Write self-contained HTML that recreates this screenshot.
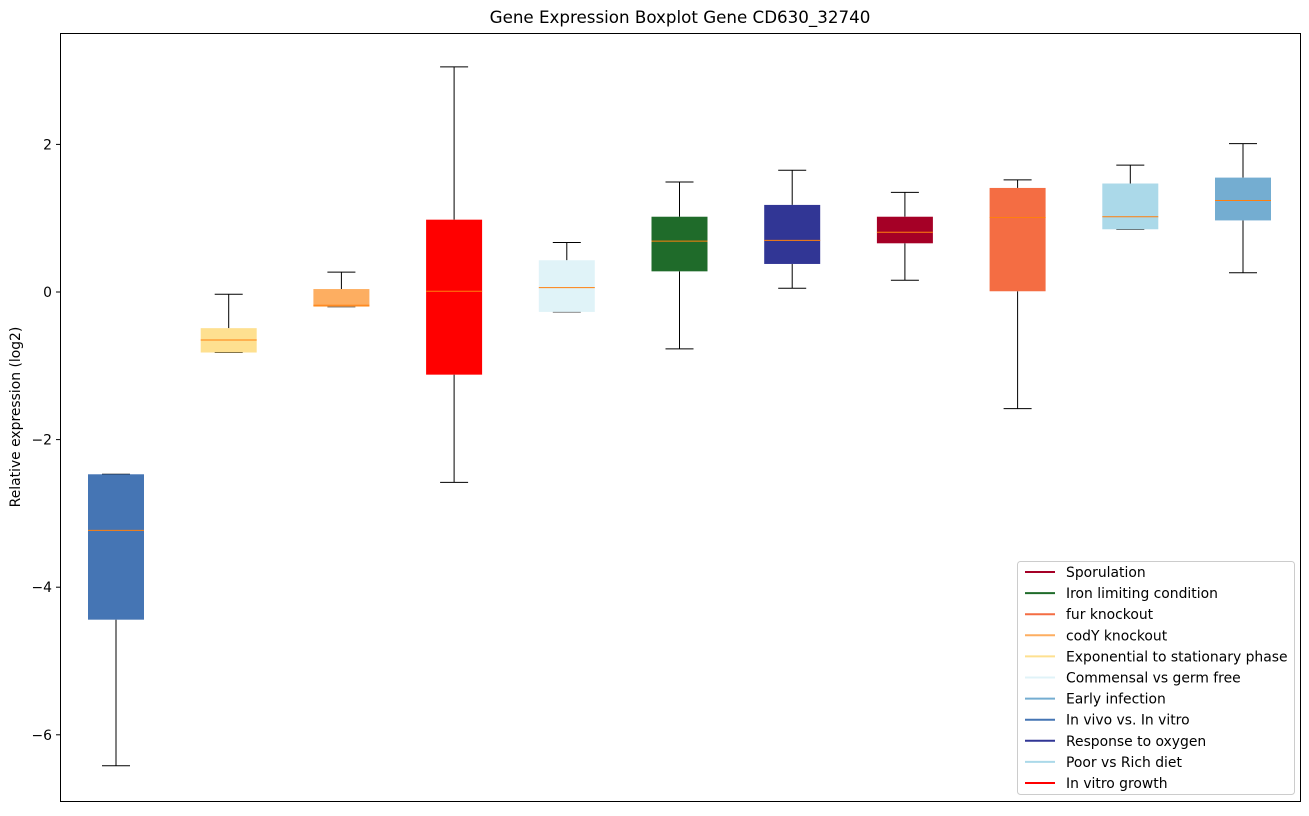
<!DOCTYPE html>
<html><head><meta charset="utf-8"><style>
body{margin:0;background:#fff;font-family:"DejaVu Sans","Liberation Sans",sans-serif;}
svg text{font-family:"DejaVu Sans","Liberation Sans",sans-serif;}
</style></head><body>
<svg id="chart" width="1309" height="812">
<text x="680" y="23" text-anchor="middle" font-size="16.7">Gene Expression Boxplot Gene CD630_32740</text>
<text transform="translate(20,417) rotate(-90)" text-anchor="middle" font-size="13.9">Relative expression (log2)</text>
<g id="marks"></g>
<g id="yaxis"></g>
<rect x="60.5" y="33.5" width="1240" height="768" fill="none" stroke="#000" stroke-width="1"/>
<g id="legend"></g>
</svg>
<script>
const categories=["In vivo vs. In vitro","Exponential to stationary phase","codY knockout","In vitro growth","Commensal vs germ free","Iron limiting condition","Response to oxygen","Sporulation","fur knockout","Poor vs Rich diet","Early infection"];
const colors=["#4575b4","#fee090","#fdae61","#ff0000","#e0f3f8","#1f6b2a","#313695","#a50026","#f46d43","#abd9e9","#74add1"];
const whiskerLow=[-6.42,-0.82,-0.2,-2.58,-0.27,-0.77,0.05,0.16,-1.58,0.85,0.26];
const q1=[-4.44,-0.82,-0.2,-1.12,-0.27,0.28,0.38,0.66,0.01,0.85,0.97];
const median=[-3.23,-0.65,-0.18,0.01,0.06,0.69,0.70,0.81,1.01,1.02,1.24];
const q3=[-2.47,-0.49,0.04,0.98,0.43,1.02,1.18,1.02,1.41,1.47,1.55];
const whiskerHigh=[-2.47,-0.03,0.27,3.05,0.67,1.49,1.65,1.35,1.52,1.72,2.01];
const yTicks=[2,0,-2,-4,-6];
const legendOrder=[7,5,8,2,1,4,10,0,6,9,3];
const NS="http://www.w3.org/2000/svg";
const y=v=>292-v*73.8;
const x=i=>116+i*112.7;
function mk(t,a,p){const e=document.createElementNS(NS,t);for(const k in a)e.setAttribute(k,a[k]);p.appendChild(e);return e;}
const g=document.getElementById('marks');
categories.forEach((c,i)=>{
 const cx=x(i),w=56;
 const wl=mk('line',{x1:cx,x2:cx,y1:y(q1[i]),y2:y(whiskerLow[i]),stroke:'#000'},g);
 
 
 const wh=mk('line',{x1:cx,x2:cx,y1:y(q3[i]),y2:y(whiskerHigh[i]),stroke:'#000'},g);
 
 
 const c1=mk('line',{x1:cx-14,x2:cx+14,y1:y(whiskerLow[i]),y2:y(whiskerLow[i]),stroke:'#000'},g);
 
 
 const c2=mk('line',{x1:cx-14,x2:cx+14,y1:y(whiskerHigh[i]),y2:y(whiskerHigh[i]),stroke:'#000'},g);
 
 
 const b=mk('rect',{x:cx-w/2,y:y(q3[i]),width:w,height:Math.max(1,y(q1[i])-y(q3[i])),fill:colors[i]},g);
 
 
 const m=mk('line',{x1:cx-w/2,x2:cx+w/2,y1:y(median[i]),y2:y(median[i]),stroke:'#ff7f0e','stroke-width':1},g);
 
 
});
const ya=document.getElementById('yaxis');
yTicks.forEach(t=>{
 const l=mk('line',{x1:56,x2:60,y1:y(t),y2:y(t),stroke:'#000'},ya);
 
 
 const tx=mk('text',{x:52,y:y(t)+5,'text-anchor':'end','font-size':13.9},ya);
 tx.textContent=(t<0?'\u2212'+(-t):t);
 
 
});
const lg=document.getElementById('legend');
const fr=mk('rect',{x:1017.5,y:561.5,width:277,height:233,rx:3,fill:'#fff',stroke:'#ccc'},lg);


legendOrder.forEach((ci,k)=>{
 const yy=572+k*21.1;
 const l=mk('line',{x1:1025,x2:1055,y1:yy,y2:yy,stroke:colors[ci],'stroke-width':2},lg);
 
 
 const t=mk('text',{x:1066,y:yy+5,'font-size':13.9},lg);
 t.textContent=categories[ci];
 
 
});
</script>
</body></html>
